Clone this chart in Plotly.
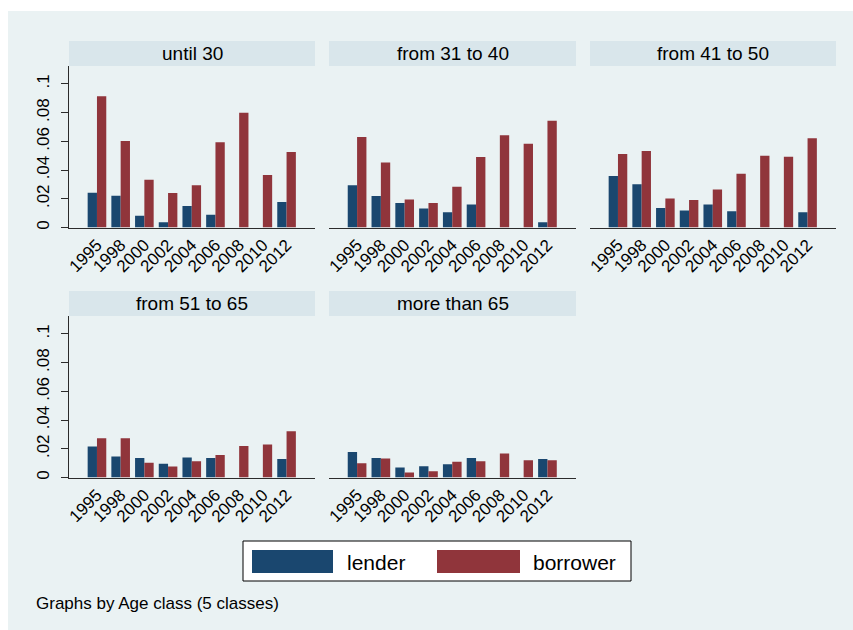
import plotly.graph_objects as go

# ---- data -------------------------------------------------------------
years = ["1995", "1998", "2000", "2002", "2004", "2006", "2008", "2010", "2012"]
age_classes = ["until 30", "from 31 to 40", "from 41 to 50", "from 51 to 65", "more than 65"]

lender_until30 = [0.0242, 0.0221, 0.0081, 0.0037, 0.0149, 0.0088, None, None, 0.0177]
borrower_until30 = [0.0914, 0.0602, 0.0333, 0.0240, 0.0295, 0.0593, 0.0800, 0.0365, 0.0526]

lender_31_40 = [0.0295, 0.0219, 0.0170, 0.0133, 0.0107, 0.0160, None, None, 0.0037]
borrower_31_40 = [0.0630, 0.0453, 0.0195, 0.0170, 0.0284, 0.0491, 0.0642, 0.0584, 0.0744]

lender_41_50 = [0.0358, 0.0302, 0.0135, 0.0119, 0.0160, 0.0114, None, None, 0.0107]
borrower_41_50 = [0.0512, 0.0533, 0.0202, 0.0191, 0.0265, 0.0374, 0.0500, 0.0493, 0.0621]

lender_51_65 = [0.0216, 0.0147, 0.0135, 0.0095, 0.0140, 0.0135, None, None, 0.0128]
borrower_51_65 = [0.0274, 0.0274, 0.0102, 0.0077, 0.0114, 0.0156, 0.0219, 0.0230, 0.0323]

lender_over65 = [0.0177, 0.0135, 0.0070, 0.0079, 0.0093, 0.0135, None, None, 0.0128]
borrower_over65 = [0.0100, 0.0133, 0.0035, 0.0044, 0.0109, 0.0114, 0.0167, 0.0121, 0.0121]

lender_series = [lender_until30, lender_31_40, lender_41_50, lender_51_65, lender_over65]
borrower_series = [borrower_until30, borrower_31_40, borrower_41_50, borrower_51_65, borrower_over65]

y_tickvals = [0, 0.02, 0.04, 0.06, 0.08, 0.1]
y_ticktext = ["0", ".02", ".04", ".06", ".08", ".1"]

# ---- style ------------------------------------------------------------
W, H = 853, 630
FONT = "Liberation Sans, Arial, sans-serif"
NAVY = "#1A476F"
MAROON = "#90353B"
BG = "#EAF2F3"
STRIP = "#D9E6EB"
AXIS = "#2b2b2b"

col_px = [(69, 315), (329, 576), (590, 836)]
row_px = [(66, 227.5), (316, 477.5)]   # plot area top/bottom in pixels
STRIP_H = 25


def fx(px):
    return px / W


def fy(py):
    return 1 - py / H


fig = go.Figure()
layout = {}
shapes = []
annotations = []

# page background with a thin white border on the top/left
shapes.append(dict(type="rect", xref="paper", yref="paper", x0=fx(8), x1=1, y0=0, y1=fy(11),
                   fillcolor=BG, line=dict(width=0), layer="below"))

for i, name in enumerate(age_classes):
    r, c = divmod(i, 3)
    n = "" if i == 0 else str(i + 1)
    xa, ya = "x" + n, "y" + n
    (x0, x1), (y0, y1) = col_px[c], row_px[r]

    fig.add_trace(go.Bar(x=years, y=lender_series[i], name="lender", marker=dict(color=NAVY, line=dict(width=0)),
                         xaxis=xa, yaxis=ya, showlegend=False))
    fig.add_trace(go.Bar(x=years, y=borrower_series[i], name="borrower", marker=dict(color=MAROON, line=dict(width=0)),
                         xaxis=xa, yaxis=ya, showlegend=False))

    first_col = c == 0
    layout["xaxis" + n] = dict(
        domain=[fx(x0), fx(x1)], anchor=ya, type="category", range=[-1.18, 9.2], automargin=False,
        showline=True, linecolor=AXIS, linewidth=1, ticks="", showgrid=False,
        tickangle=-45, tickfont=dict(family=FONT, size=17, color="black"), fixedrange=True,
    )
    layout["yaxis" + n] = dict(
        domain=[fy(y1), fy(y0)], anchor=xa, range=[0, 0.1125], automargin=False,
        tickvals=y_tickvals, ticktext=y_ticktext if first_col else [""] * len(y_tickvals),
        showticklabels=first_col, ticks="outside" if first_col else "", ticklen=7, tickcolor=AXIS,
        showline=first_col, linecolor=AXIS, linewidth=1, mirror=False,
        showgrid=True, gridcolor=BG, gridwidth=1, zeroline=False,
        tickangle=-90, ticklabelstandoff=5, tickfont=dict(family=FONT, size=17, color="black"),
        fixedrange=True,
    )

    # header strip for the panel
    shapes.append(dict(type="rect", xref="paper", yref="paper", x0=fx(x0), x1=fx(x1),
                       y0=fy(y0), y1=fy(y0 - STRIP_H), fillcolor=STRIP, line=dict(width=0), layer="below"))
    annotations.append(dict(xref="paper", yref="paper", x=fx((x0 + x1) / 2), y=fy(y0 - STRIP_H / 2),
                            text=name, showarrow=False, xanchor="center", yanchor="middle",
                            font=dict(family=FONT, size=19, color="black")))

# legend box
shapes.append(dict(type="rect", xref="paper", yref="paper", x0=fx(243), x1=fx(631), y0=fy(581), y1=fy(541),
                   fillcolor="white", line=dict(color="black", width=1)))
shapes.append(dict(type="rect", xref="paper", yref="paper", x0=fx(252), x1=fx(333), y0=fy(573), y1=fy(550),
                   fillcolor=NAVY, line=dict(width=0)))
shapes.append(dict(type="rect", xref="paper", yref="paper", x0=fx(437), x1=fx(520), y0=fy(573), y1=fy(550),
                   fillcolor=MAROON, line=dict(width=0)))
annotations.append(dict(xref="paper", yref="paper", x=fx(345), y=fy(562), text="lender", showarrow=False,
                        xanchor="left", yanchor="middle", font=dict(family=FONT, size=21, color="black")))
annotations.append(dict(xref="paper", yref="paper", x=fx(531), y=fy(562), text="borrower", showarrow=False,
                        xanchor="left", yanchor="middle", font=dict(family=FONT, size=21, color="black")))

# note under the graph
annotations.append(dict(xref="paper", yref="paper", x=fx(34), y=fy(603), text="Graphs by Age class (5 classes)",
                        showarrow=False, xanchor="left", yanchor="middle",
                        font=dict(family=FONT, size=17, color="black")))

fig.update_layout(
    width=W, height=H, margin=dict(l=0, r=0, t=0, b=0, autoexpand=False),
    paper_bgcolor="white", plot_bgcolor="white",
    barmode="group", bargap=0.215, bargroupgap=0,
    shapes=shapes, annotations=annotations, showlegend=False,
    **layout,
)

fig.write_html("out.html", config={"displayModeBar": False})
